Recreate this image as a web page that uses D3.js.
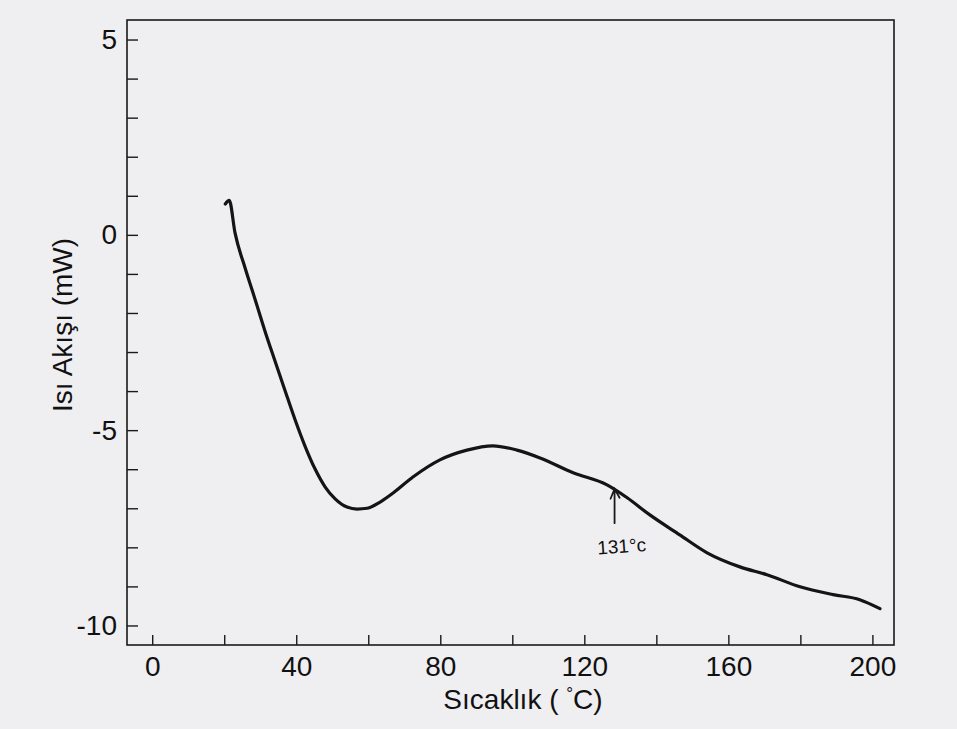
<!DOCTYPE html>
<html>
<head>
<meta charset="utf-8">
<script src="https://cdn.jsdelivr.net/npm/d3@7"></script>
<style>
  html, body { margin: 0; padding: 0; background: #efeef1; }
  svg { display: block; }
  text { font-family: "Liberation Sans", Arial, sans-serif; fill: #111; }
</style>
</head>
<body>
<svg id="chart" width="957" height="729"></svg>
<script>
// DSC trace: temperature (°C) and heat flow (mW)
const temperature = [20.3, 21.4, 23.0, 25.8, 28.6, 31.3, 34.1, 36.9, 39.7, 42.4, 45.2, 48.0, 50.8,
  54.1, 56.9, 59.7, 63.3, 66.9, 72.4, 79.9, 87.4, 94.6, 101.3, 107.7, 116.9, 126.3, 131.9,
  138.2, 146.5, 154.1, 163.2, 170.7, 179.9, 189.1, 196.5, 202.1];
const heatFlow = [0.79, 0.88, 0.05, -0.85, -1.66, -2.46, -3.23, -3.99, -4.74, -5.40, -5.99, -6.45, -6.76,
  -6.97, -7.02, -7.00, -6.84, -6.61, -6.20, -5.76, -5.51, -5.40, -5.51, -5.71, -6.09, -6.40, -6.73,
  -7.17, -7.68, -8.14, -8.50, -8.70, -9.01, -9.21, -9.34, -9.57];

const xTicks = d3.range(0, 201, 20);
const xLabels = [0, 40, 80, 120, 160, 200];
const yTicks = d3.range(-10, 6, 1);
const yLabels = [-10, -5, 0, 5];

// hand-written note on the trace
const noteText = "131°c";
const noteArrow = [[128.4, -6.5], [128.4, -7.38]];
const notePos = [130.5, -8.14];

const svg = d3.select("#chart");
const box = { left: 127, right: 894, top: 20, bottom: 645 };

const x = d3.scaleLinear().domain([-7, 206]).range([box.left, box.right]);
const y = d3.scaleLinear().domain([-10.5, 5.5]).range([box.bottom, box.top]);

// frame
svg.append("rect")
    .attr("x", box.left).attr("y", box.top)
    .attr("width", box.right - box.left).attr("height", box.bottom - box.top)
    .attr("fill", "none").attr("stroke", "#1a1a1a").attr("stroke-width", 1.6);

// x axis, ticks pointing in
const xAxis = svg.append("g")
    .attr("transform", `translate(0,${box.bottom})`)
    .call(d3.axisBottom(x).tickValues(xTicks)
        .tickFormat(d => xLabels.includes(d) ? d : "")
        .tickSizeInner(-10).tickSizeOuter(0).tickPadding(11));
xAxis.select(".domain").remove();
xAxis.selectAll("line").attr("stroke", "#1a1a1a").attr("stroke-width", 1.4);
xAxis.selectAll("text").attr("font-size", 28).attr("font-family", "Liberation Sans, Arial, sans-serif").attr("fill", "#111");

// y axis, ticks pointing in
const yAxis = svg.append("g")
    .attr("transform", `translate(${box.left},0)`)
    .call(d3.axisLeft(y).tickValues(yTicks)
        .tickFormat(d => yLabels.includes(d) ? d : "")
        .tickSizeInner(-11).tickSizeOuter(0).tickPadding(10));
yAxis.select(".domain").remove();
yAxis.selectAll("line").attr("stroke", "#1a1a1a").attr("stroke-width", 1.4);
yAxis.selectAll("text").attr("font-size", 28).attr("font-family", "Liberation Sans, Arial, sans-serif").attr("fill", "#111");

// axis titles
const xTitle = svg.append("text")
    .attr("x", 523).attr("y", 709)
    .attr("text-anchor", "middle").attr("font-size", 28)
    .text("Sıcaklık ( ");
xTitle.append("tspan").attr("font-size", 17).attr("dy", -10).text("°");
xTitle.append("tspan").attr("dy", 10).text("C)");

svg.append("text")
    .attr("transform", "translate(72,325) rotate(-90)")
    .attr("text-anchor", "middle").attr("font-size", 28)
    .text("Isı Akışı (mW)");

// trace
const pts = temperature.map((t, i) => [t, heatFlow[i]]);
svg.append("path")
    .datum(pts)
    .attr("fill", "none")
    .attr("stroke", "#141414")
    .attr("stroke-width", 3.2)
    .attr("stroke-linecap", "round")
    .attr("stroke-linejoin", "round")
    .attr("d", d3.line().x(d => x(d[0])).y(d => y(d[1])).curve(d3.curveMonotoneX));

// note arrow
const ax = x(noteArrow[0][0]), ay0 = y(noteArrow[0][1]), ay1 = y(noteArrow[1][1]);
svg.append("path")
    .attr("d", `M${ax},${ay1} L${ax},${ay0} M${ax - 4},${ay0 + 10} L${ax},${ay0} L${ax + 5},${ay0 + 9}`)
    .attr("fill", "none").attr("stroke", "#1a1a1a").attr("stroke-width", 1.8)
    .attr("stroke-linecap", "round");
svg.append("text")
    .attr("x", x(notePos[0])).attr("y", y(notePos[1]))
    .attr("text-anchor", "middle").attr("font-size", 19)
    .attr("font-family", "DejaVu Sans Condensed, sans-serif")
    .attr("transform", `rotate(-4 ${x(notePos[0])} ${y(notePos[1])})`)
    .text(noteText);
</script>
</body>
</html>
